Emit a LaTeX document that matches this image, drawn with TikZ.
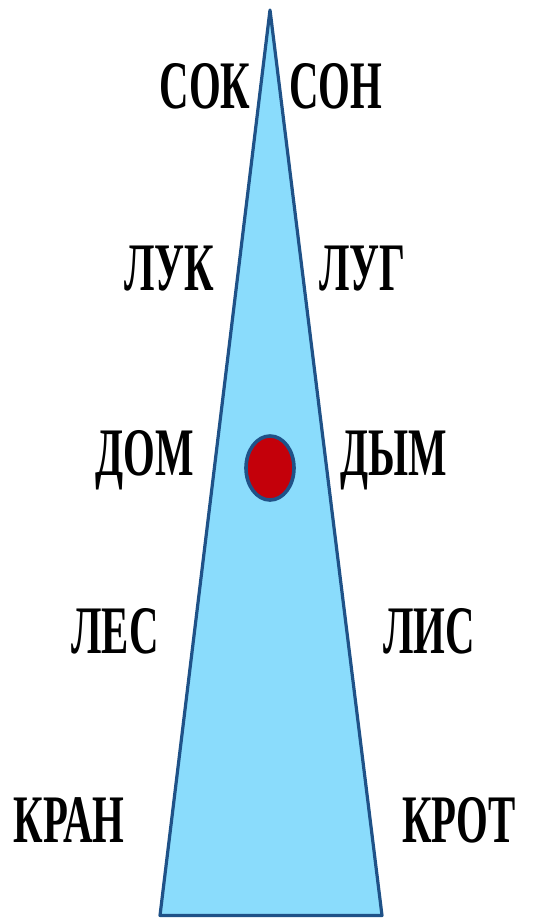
\documentclass[tikz,border=0pt]{standalone}
\usepackage{fontspec}
\usetikzlibrary{shapes.geometric}
\setmainfont{Liberation Serif}
\definecolor{triFill}{HTML}{8ADCFC}
\definecolor{triLine}{HTML}{1F5288}
\definecolor{dotRed}{HTML}{C4000A}
\tikzset{
  word/.style={anchor=base, inner sep=0pt, font=\fontsize{68}{68}\selectfont\bfseries},
}
\newcommand{\wrd}[1]{\scalebox{0.6}[1]{#1}}
\begin{document}
\begin{tikzpicture}[x=1pt,y=-1pt]
\useasboundingbox[fill=white] (0,0) rectangle (550,919);
\coordinate (apex) at (270,10);
\coordinate (bl) at (160,915.5);
\coordinate (br) at (382,915.5);
\draw[triLine, line width=3.2pt, line join=round, fill=triFill] (apex) -- (br) -- (bl) -- cycle;
\node[draw=triLine, line width=3.6pt, fill=dotRed, ellipse, minimum width=48pt, minimum height=64pt, inner sep=0pt] (dot) at (270,468) {};
\node[word] (sok) at (205,108) {\wrd{СОК}};
\node[word] (son) at (335.5,108) {\wrd{СОН}};
\node[word] (luk) at (169,290) {\wrd{ЛУК}};
\node[word] (lug) at (362.5,290) {\wrd{ЛУГ}};
\node[word] (dom) at (145,475) {\wrd{ДОМ}};
\node[word] (dym) at (393.5,475) {\wrd{ДЫМ}};
\node[word] (les) at (115,653) {\wrd{ЛЕС}};
\node[word] (lis) at (429,653) {\wrd{ЛИС}};
\node[word] (kran) at (69,842) {\wrd{КРАН}};
\node[word] (krot) at (459,842) {\wrd{КРОТ}};
\end{tikzpicture}
\end{document}
